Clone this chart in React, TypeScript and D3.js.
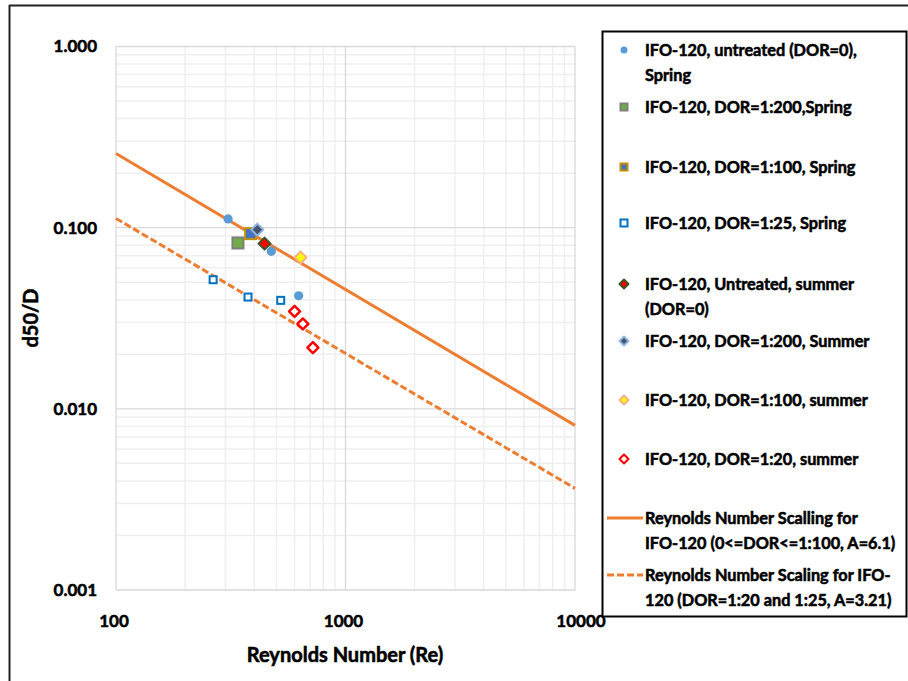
import React from "react";
import * as d3 from "d3";

const W = 908;
const H = 681;

// Series data (Reynolds number, d50/D)
const untreatedSpringRe = [308, 475, 625];
const untreatedSpringD = [0.1117, 0.074, 0.0421];
const dor200SpringRe = [340];
const dor200SpringD = [0.0823];
const dor100SpringRe = [386];
const dor100SpringD = [0.0927];
const dor25SpringRe = [265, 376, 522];
const dor25SpringD = [0.0516, 0.0414, 0.0397];
const untreatedSummerRe = [444];
const untreatedSummerD = [0.0816];
const dor200SummerRe = [413];
const dor200SummerD = [0.0975];
const dor100SummerRe = [637];
const dor100SummerD = [0.0685];
const dor20SummerRe = [600, 652, 721];
const dor20SummerD = [0.0345, 0.0294, 0.0218];

// Scaling lines (endpoints)
const fitRe = [100, 10000];
const fitSolid = [0.2567, 0.0081];
const fitDashed = [0.1124, 0.00364];

const xTicks = [100, 1000, 10000];
const xTickLabels = ["100", "1000", "10000"];
const yTicks = [1, 0.1, 0.01, 0.001];
const yTickLabels = ["1.000", "0.100", "0.010", "0.001"];

const legendLabels = [
  ["IFO-120, untreated (DOR=0),", "Spring"],
  ["IFO-120, DOR=1:200,Spring"],
  ["IFO-120, DOR=1:100, Spring"],
  ["IFO-120, DOR=1:25, Spring"],
  ["IFO-120, Untreated, summer", "(DOR=0)"],
  ["IFO-120, DOR=1:200, Summer"],
  ["IFO-120, DOR=1:100, summer"],
  ["IFO-120, DOR=1:20, summer"],
  ["Reynolds Number Scalling for", "IFO-120 (0<=DOR<=1:100, A=6.1)"],
  ["Reynolds Number Scaling for IFO-", "120 (DOR=1:20 and 1:25, A=3.21)"],
];

type Style = {
  shape: "circle" | "square" | "diamond" | "line";
  size: number;
  fill: string;
  stroke: string;
  sw: number;
  dash?: string;
};

const styles: Style[] = [
  { shape: "circle", size: 4.6, fill: "#5B9BD5", stroke: "#5B9BD5", sw: 0 },
  { shape: "square", size: 11, fill: "#70AD47", stroke: "#7F7F7F", sw: 2 },
  { shape: "square", size: 11, fill: "#4472C4", stroke: "#BF9000", sw: 2 },
  { shape: "square", size: 7, fill: "#FFFFFF", stroke: "#0070C0", sw: 2 },
  { shape: "diamond", size: 6, fill: "#FF0000", stroke: "#385723", sw: 2 },
  { shape: "diamond", size: 6, fill: "#44546A", stroke: "#8FB4E3", sw: 2 },
  { shape: "diamond", size: 6, fill: "#FFFF00", stroke: "#F4B183", sw: 2 },
  { shape: "diamond", size: 5.5, fill: "#FFFFFF", stroke: "#FF0000", sw: 2.5 },
  { shape: "line", size: 0, fill: "none", stroke: "#ED7D31", sw: 3 },
  { shape: "line", size: 0, fill: "none", stroke: "#ED7D31", sw: 3, dash: "7,3" },
];

const seriesRe = [
  untreatedSpringRe,
  dor200SpringRe,
  dor100SpringRe,
  dor25SpringRe,
  untreatedSummerRe,
  dor200SummerRe,
  dor100SummerRe,
  dor20SummerRe,
];
const seriesD = [
  untreatedSpringD,
  dor200SpringD,
  dor100SpringD,
  dor25SpringD,
  untreatedSummerD,
  dor200SummerD,
  dor100SummerD,
  dor20SummerD,
];

const FONT = "Lato, 'Open Sans', 'Noto Sans', sans-serif";
const TXT = { fill: "#000", stroke: "#000", strokeWidth: 0.55, fontWeight: 700 } as const;

function Marker({ s, x, y }: { s: Style; x: number; y: number }) {
  if (s.shape === "circle")
    return <circle cx={x} cy={y} r={s.size} fill={s.fill} />;
  if (s.shape === "square")
    return (
      <rect
        x={x - s.size / 2}
        y={y - s.size / 2}
        width={s.size}
        height={s.size}
        fill={s.fill}
        stroke={s.stroke}
        strokeWidth={s.sw}
      />
    );
  if (s.shape === "diamond") {
    const r = s.size;
    return (
      <path
        d={`M${x},${y - r}L${x + r},${y}L${x},${y + r}L${x - r},${y}Z`}
        fill={s.fill}
        stroke={s.stroke}
        strokeWidth={s.sw}
        strokeLinejoin="round"
      />
    );
  }
  return null;
}

export default function App() {
  const left = 116;
  const right = 575;
  const top = 46.5;
  const bottom = 590;
  const x = d3.scaleLog().domain([100, 10000]).range([left, right]);
  const y = d3.scaleLog().domain([0.001, 1]).range([bottom, top]);

  const minorX: number[] = [];
  for (const dec of [100, 1000]) for (let k = 2; k <= 9; k++) minorX.push(dec * k);
  const minorY: number[] = [];
  for (const dec of [0.001, 0.01, 0.1]) for (let k = 2; k <= 9; k++) minorY.push(dec * k);

  const line = d3
    .line<number>()
    .x((_, i) => x(fitRe[i]))
    .y((d) => y(d));

  const legendY = [50, 107, 167, 223, 284, 341, 400, 459, 518, 575];

  return (
    <svg
      width={W}
      height={H}
      style={{ position: "absolute", left: 0, top: 0, background: "#fff" }}
      fontFamily={FONT}
    >
      <rect x={0} y={0} width={W} height={H} fill="#fff" />
      {/* outer frame */}
      <line x1={9.5} y1={5} x2={9.5} y2={H} stroke="#222" strokeWidth={2} />
      <line x1={9} y1={5.5} x2={W} y2={5.5} stroke="#222" strokeWidth={2} />

      {/* grid */}
      {minorX.map((v) => (
        <line key={"mx" + v} x1={x(v)} x2={x(v)} y1={top} y2={bottom} stroke="#efefef" strokeWidth={1.5} />
      ))}
      {minorY.map((v, i) => (
        <line key={"my" + i} x1={left} x2={right} y1={y(v)} y2={y(v)} stroke="#efefef" strokeWidth={1.5} />
      ))}
      {xTicks.map((v) => (
        <line key={"Mx" + v} x1={x(v)} x2={x(v)} y1={top} y2={bottom} stroke="#d9d9d9" strokeWidth={1.3} />
      ))}
      {yTicks.map((v) => (
        <line key={"My" + v} x1={left} x2={right} y1={y(v)} y2={y(v)} stroke="#d9d9d9" strokeWidth={1.3} />
      ))}

      {/* fit lines */}
      <path d={line(fitSolid) || ""} fill="none" stroke="#ED7D31" strokeWidth={3} />
      <path d={line(fitDashed) || ""} fill="none" stroke="#ED7D31" strokeWidth={3} strokeDasharray="7,3" />

      {/* markers */}
      {seriesRe.map((arr, si) =>
        arr.map((re, i) => (
          <Marker key={si + "-" + i} s={styles[si]} x={x(re)} y={y(seriesD[si][i])} />
        ))
      )}

      {/* y tick labels */}
      {yTicks.map((v, i) => (
        <text key={"yt" + i} x={97} y={y(v)} dy="0.35em" textAnchor="end" fontSize={17} {...TXT}>
          {yTickLabels[i]}
        </text>
      ))}
      {/* x tick labels */}
      {xTicks.map((v, i) => (
        <text key={"xt" + i} x={x(v) + (i === 2 ? 6 : -2)} y={627} textAnchor="middle" fontSize={17} {...TXT}>
          {xTickLabels[i]}
        </text>
      ))}
      <text x={345} y={662} textAnchor="middle" fontSize={20} {...TXT}>
        Reynolds Number (Re)
      </text>
      <text transform="translate(38,318) rotate(-90)" textAnchor="middle" fontSize={20} {...TXT}>
        d50/D
      </text>

      {/* legend */}
      <rect x={602.5} y={31.5} width={304} height={585} fill="#fff" stroke="#000" strokeWidth={2} />
      {legendLabels.map((lines, i) => {
        const s = styles[i];
        const ly = legendY[i];
        return (
          <g key={"lg" + i}>
            {s.shape === "line" ? (
              <line x1={607} x2={643} y1={ly} y2={ly} stroke={s.stroke} strokeWidth={3} strokeDasharray={s.dash} />
            ) : (
              <Marker s={{ ...s, size: s.shape === "circle" ? 3.5 : s.shape === "diamond" ? 4.5 : 7, sw: s.shape === "circle" ? 0 : Math.min(s.sw, 2) }} x={624} y={ly} />
            )}
            {lines.map((t, j) => (
              <text key={j} x={645} y={ly + j * 25} dy="0.35em" fontSize={16.3} {...TXT}>
                {t}
              </text>
            ))}
          </g>
        );
      })}
    </svg>
  );
}
